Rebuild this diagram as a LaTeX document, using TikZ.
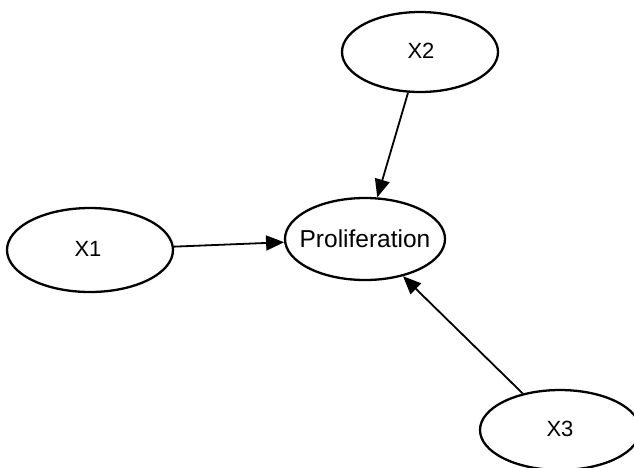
\documentclass[tikz,border=0pt]{standalone}
\usepackage{fontspec}
\setmainfont{Liberation Sans}
\usetikzlibrary{shapes.geometric,arrows.meta}
\tikzset{
  state/.style={draw=black, line width=2.3pt, ellipse, inner sep=0pt},
  statelabel/.style={inner sep=0pt, font=\fontsize{22pt}{22pt}\selectfont},
  link/.style={draw=black, line width=1.8pt, -{Triangle[length=18pt,width=15pt]}, shorten >=0pt}
}
\begin{document}
\begin{tikzpicture}[x=1pt, y=-1pt]
  \useasboundingbox (0,0) rectangle (634,467);
  \begin{scope}
    \clip (0,0) rectangle (634,467);
    % outcome node and its three inputs
    \node[state, minimum width=160pt, minimum height=82pt] (P) at (365,239) {};
    \node[state, minimum width=156pt, minimum height=80pt] (X2) at (420,52) {};
    \node[state, minimum width=166pt, minimum height=84pt] (X1) at (90,250) {};
    \node[state, minimum width=160pt, minimum height=80pt] (X3) at (560,430) {};

    \node[statelabel, font=\fontsize{24.5pt}{24.5pt}\selectfont] (Ptext) at (365,239) {Proliferation};
    \node[statelabel] (X2text) at (421,51) {X2};
    \node[statelabel] (X1text) at (88,249) {X1};
    \node[statelabel] (X3text) at (560,429) {X3};

    % directed edges into the outcome
    \draw[link] (X1) -- (P);
    \draw[link] (X2) -- (P);
    \draw[link] (X3) -- (P);
  \end{scope}
\end{tikzpicture}
\end{document}
